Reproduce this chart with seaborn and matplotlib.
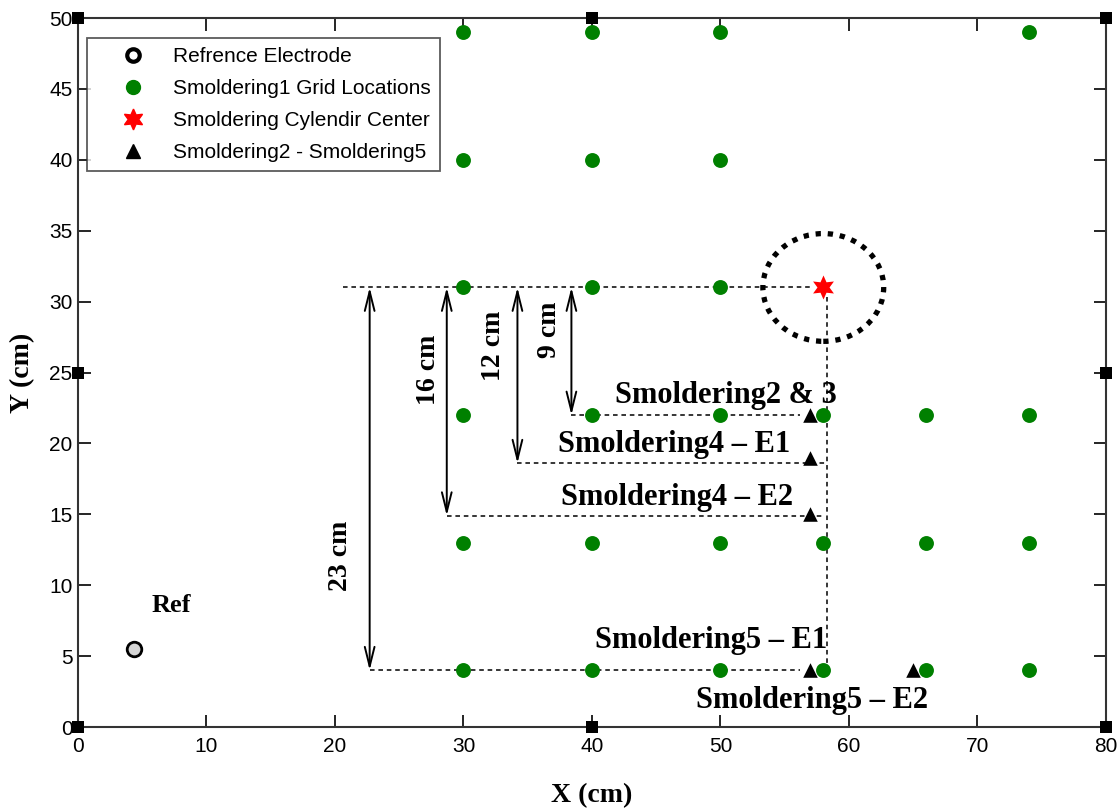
import matplotlib
matplotlib.use("Agg")
import matplotlib.pyplot as plt
from matplotlib.lines import Line2D
from matplotlib.patches import Ellipse
import seaborn as sns
import pandas as pd

# ---- data ----
grid_x = [30, 40, 50, 74,
          30, 40, 50,
          30, 40, 50,
          30, 40, 50, 58, 66, 74,
          30, 40, 50, 58, 66, 74,
          30, 40, 50, 58, 66, 74]
grid_y = [49, 49, 49, 49,
          40, 40, 40,
          31, 31, 31,
          22, 22, 22, 22, 22, 22,
          13, 13, 13, 13, 13, 13,
          4, 4, 4, 4, 4, 4]
ref_x = [4.4]
ref_y = [5.5]
center_x = [58]
center_y = [31]
tri_x = [57, 57, 57, 57, 65]
tri_y = [22, 19, 15, 4, 4]
frame_x = [0, 40, 80, 0, 80, 0, 40, 80]
frame_y = [0, 0, 0, 25, 25, 50, 50, 50]

# dimension arrows
dim_x = [22.7, 28.7, 34.2, 38.4]
dim_top = [31, 31, 31, 31]
dim_bottom = [4, 14.9, 18.6, 22]
dim_labels = ["23 cm", "16 cm", "12 cm", "9 cm"]
dim_label_x = [20.4, 27.3, 32.3, 36.7]
dim_label_y = [12.1, 25.2, 26.9, 28.0]

# dashed guide lines (horizontal): y, x_start, x_end
hline_y = [31, 22, 18.6, 14.9, 4]
hline_x0 = [20.6, 38.4, 34.2, 28.7, 22.7]
hline_x1 = [57.2, 56.2, 58.3, 58.0, 56.2]

text_labels = ["Smoldering2 & 3", "Smoldering4 \u2013 E1", "Smoldering4 \u2013 E2",
               "Ref", "Smoldering5 \u2013 E1", "Smoldering5 \u2013 E2"]
text_x = [50.4, 46.4, 46.6, 7.3, 49.3, 57.1]
text_y = [23.4, 19.9, 16.2, 8.6, 6.1, 1.9]
text_size = [22, 22, 22, 19, 22, 22]

legend_labels = ["Refrence Electrode", "Smoldering1 Grid Locations",
                 "Smoldering Cylendir Center", "Smoldering2 - Smoldering5"]

# ---- plot ----
sns.set_style("ticks")
plt.rcParams["font.family"] = ["Liberation Sans", "DejaVu Sans"]
plt.rcParams["text.color"] = "black"
plt.rcParams["axes.labelcolor"] = "black"
plt.rcParams["xtick.color"] = "black"
plt.rcParams["ytick.color"] = "black"

fig = plt.figure(figsize=(11.2, 8.08), dpi=100)
ax = fig.add_axes([0.0696, 0.1002, 0.9179, 0.8775])

serif = ["Liberation Serif", "DejaVu Serif"]

# dashed guides
for y, x0, x1 in zip(hline_y, hline_x0, hline_x1):
    ax.plot([x0, x1], [y, y], ls=(0, (3, 2.5)), color="black", lw=1.1, zorder=1)
ax.plot([58.3, 58.3], [30.3, 4.5], ls=(0, (3, 2.5)), color="black", lw=1.1, zorder=1)

# dotted circle
ax.add_patch(Ellipse((center_x[0], center_y[0]), width=9.4, height=7.6, fill=False,
                     ls=(0, (1, 1.3)), lw=3.8, edgecolor="black", zorder=2))

# arrows
for x, yt, yb, lab, lx, ly in zip(dim_x, dim_top, dim_bottom, dim_labels, dim_label_x, dim_label_y):
    ax.annotate("", xy=(x, yb), xytext=(x, yt),
                arrowprops=dict(arrowstyle="<->,head_length=1.4,head_width=0.35",
                                color="black", lw=1.4, shrinkA=0, shrinkB=0))
    ax.text(lx, ly, lab, rotation=90, ha="center", va="center", fontsize=20,
            fontweight="bold", family=serif)

sns.scatterplot(x=grid_x, y=grid_y, ax=ax, color="green", marker="o", s=115,
                edgecolor="green", linewidth=0, zorder=4)
sns.scatterplot(x=ref_x, y=ref_y, ax=ax, color="#d4d4d4", marker="o", s=110,
                edgecolor="black", linewidth=2, zorder=4)
sns.scatterplot(x=center_x, y=center_y, ax=ax, color="red", marker=(6, 1, 0), s=300,
                edgecolor="red", linewidth=0, zorder=5)
sns.scatterplot(x=tri_x, y=tri_y, ax=ax, color="black", marker="^", s=110,
                edgecolor="black", linewidth=0, zorder=5)
sns.scatterplot(x=frame_x, y=frame_y, ax=ax, color="black", marker="s", s=70,
                edgecolor="black", linewidth=0, zorder=6, clip_on=False)

for t, x, y, fs in zip(text_labels, text_x, text_y, text_size):
    ax.text(x, y, t, ha="center", va="center", fontsize=fs, fontweight="bold", family=serif)

ax.set_xlim(0, 80)
ax.set_ylim(0, 50)
ax.set_xticks(range(0, 81, 10))
ax.set_yticks(range(0, 51, 5))
ax.tick_params(direction="in", length=9, width=1.2, top=True, right=True,
               labelsize=15, colors="black")
ax.tick_params(axis="x", pad=7)
ax.tick_params(axis="y", pad=4)
for sp in ax.spines.values():
    sp.set_visible(True)
    sp.set_linewidth(1.5)
    sp.set_color("#333333")

ax.set_xlabel("X (cm)", fontsize=20, fontweight="bold", family=serif, labelpad=20)
ax.set_ylabel("Y (cm)", fontsize=20, fontweight="bold", family=serif, labelpad=10)

handles = [
    Line2D([], [], ls="none", marker="o", markersize=9, markerfacecolor="white",
           markeredgecolor="black", markeredgewidth=3),
    Line2D([], [], ls="none", marker="o", markersize=10, color="green"),
    Line2D([], [], ls="none", marker=(6, 1, 0), markersize=15, color="red"),
    Line2D([], [], ls="none", marker="^", markersize=10, color="black"),
]
leg = ax.legend(handles, legend_labels, loc="upper left", bbox_to_anchor=(0.0085, 0.972),
                fontsize=15, frameon=True, fancybox=False, edgecolor="#333333",
                borderpad=0.45, handletextpad=0.2, labelspacing=0.62, handlelength=3.5,
                borderaxespad=0)
leg.get_frame().set_linewidth(1.3)

fig.savefig("out.png", dpi=100)
